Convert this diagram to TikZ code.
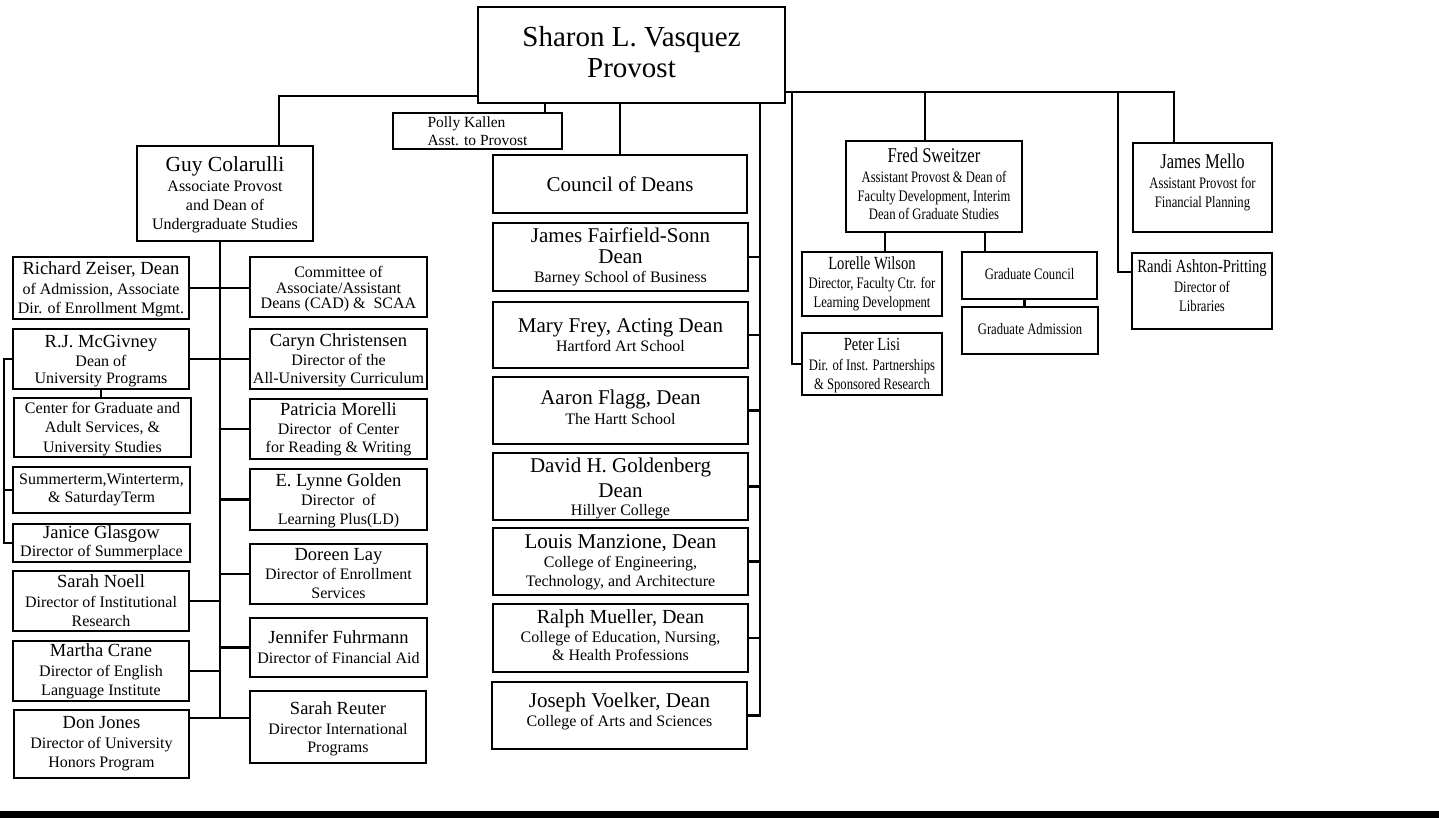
\documentclass[tikz,border=0pt]{standalone}
\usepackage{fontspec}
\setmainfont{Liberation Serif}
\newfontfamily\nar[FakeStretch=0.79]{Liberation Serif}
\newcommand\fs[2]{\fontsize{#1}{#2}\selectfont}
\newcommand\fbg{\fs{21}{20}}
\newcommand\fmd{\fs{18.5}{19}}
\newcommand\fsm{\fs{16}{19}}
\tikzset{
  box/.style={draw=black, line width=2.4pt, rectangle, inner sep=0pt, align=center, font=\fs{16}{19}},
  rbox/.style={box, font=\nar\fs{16}{19}},
  wire/.style={line width=2.4pt, draw=black}
}
\begin{document}
\begin{tikzpicture}[x=1pt,y=-1pt]
\useasboundingbox (0,0) rectangle (1439,818);
\fill[white] (0,0) rectangle (1439,818);
% top
\node[box,minimum width=307pt,minimum height=96pt,font=\fs{29}{32},text depth=7pt] (Sharon) at (631.5,55) {Sharon L. Vasquez\\[-1pt]Provost};
\node[box,minimum width=169pt,minimum height=36pt,align=left,font=\fs{15.5}{18}] (Polly) at (477.5,131) {Polly Kallen\\Asst. to Provost};
% deans
\node[box,minimum width=254pt,minimum height=58pt,font=\fbg] (Council) at (620,184) {Council of Deans};
\node[box,minimum width=255pt,minimum height=68pt] (Fairfield) at (620.5,257) {\fbg James Fairfield-Sonn\\[2pt]\fbg Dean\\\fsm Barney School of Business};
\node[box,minimum width=255pt,minimum height=66pt] (Mary) at (620.5,335) {\fbg Mary Frey, Acting Dean\\\fsm Hartford Art School};
\node[box,minimum width=255pt,minimum height=67pt,text depth=7.5pt] (Aaron) at (620.5,410.5) {\fbg Aaron Flagg, Dean\\[1pt]\fsm The Hartt School};
\node[box,minimum width=255pt,minimum height=67pt,text depth=0.3pt] (David) at (620.5,486.5) {\fbg David H. Goldenberg\\[6pt]\fbg Dean\\[-1pt]\fsm Hillyer College};
\node[box,minimum width=255pt,minimum height=67pt,text depth=1.5pt] (Louis) at (620.5,561.5) {\fbg Louis Manzione, Dean\\\fsm College of Engineering,\\\fsm Technology, and Architecture};
\node[box,minimum width=255pt,minimum height=68pt,text depth=6pt] (Ralph) at (620.5,638) {\fs{20}{20}Ralph Mueller, Dean\\\fsm College of Education, Nursing,\\[-1pt]\fsm \& Health Professions};
\node[box,minimum width=255pt,minimum height=67pt,text depth=12.5pt] (Joseph) at (619.5,715.5) {\fbg Joseph Voelker, Dean\\\fsm College of Arts and Sciences};
% left group
\node[box,minimum width=176pt,minimum height=95pt,text depth=-0.5pt] (Guy) at (225,193.5) {\fs{21.5}{20}Guy Colarulli\\[1pt]\fsm Associate Provost\\\fsm and Dean of\\\fsm Undergraduate Studies};
\node[box,minimum width=176pt,minimum height=62pt,text depth=-0.5pt] (Richard) at (101,288) {\fmd Richard Zeiser, Dean\\[0.5pt]\fsm of Admission, Associate\\[0.5pt]\fsm Dir. of Enrollment Mgmt.};
\node[box,minimum width=176pt,minimum height=60pt,text depth=-1.5pt] (McGivney) at (101,359) {\fmd R.J. McGivney\\\fsm Dean of\\[-2pt]\fsm University Programs};
\node[box,minimum width=177pt,minimum height=59pt,text depth=0.9pt] (Center) at (102.5,427.5) {\fsm Center for Graduate and\\[0.5pt]\fsm Adult Services, \&\\[0.5pt]\fsm University Studies};
\node[box,minimum width=177pt,minimum height=46pt] (Summer) at (101.5,490) {\fsm Summerterm,Winterterm,\\[-1pt]\fsm \& SaturdayTerm};
\node[box,minimum width=177pt,minimum height=38pt] (Janice) at (101.5,543) {\fmd Janice Glasgow\\[-1pt]\fsm Director of Summerplace};
\node[box,minimum width=176pt,minimum height=60pt] (Noell) at (101,601) {\fmd Sarah Noell\\[1pt]\fsm Director of Institutional\\\fsm Research};
\node[box,minimum width=176pt,minimum height=60pt] (Martha) at (101,671) {\fmd Martha Crane\\[1pt]\fsm Director of English\\\fsm Language Institute};
\node[box,minimum width=175pt,minimum height=68pt] (DonJones) at (101.5,744) {\fmd Don Jones\\[1pt]\fsm Director of University\\\fsm Honors Program};
\node[box,minimum width=177pt,minimum height=60pt,text depth=0pt] (Committee) at (338.5,287) {\fsm Committee of\\[-3pt]\fsm Associate/Assistant\\[-4pt]\fsm Deans (CAD) \&\ \ SCAA};
\node[box,minimum width=177pt,minimum height=60pt,text depth=-0.5pt] (Caryn) at (338.5,359) {\fmd Caryn Christensen\\\fsm Director of the\\[-1pt]\fsm All-University Curriculum};
\node[box,minimum width=177pt,minimum height=60pt] (Patricia) at (338.5,429) {\fmd Patricia Morelli\\\fsm Director\ \ of Center\\[-1pt]\fsm for Reading \& Writing};
\node[box,minimum width=177pt,minimum height=61pt,text depth=-0.5pt] (Golden) at (338.5,499.5) {\fmd E. Lynne Golden\\\fsm Director\ \ of\\\fsm Learning Plus(LD)};
\node[box,minimum width=177pt,minimum height=60pt] (Doreen) at (338.5,574) {\fmd Doreen Lay\\\fsm Director of Enrollment\\\fsm Services};
\node[box,minimum width=177pt,minimum height=59pt] (Jennifer) at (338.5,647.5) {\fmd Jennifer Fuhrmann\\[1pt]\fsm Director of Financial Aid};
\node[box,minimum width=176pt,minimum height=72pt,text depth=-1.5pt] (Reuter) at (338,727) {\fmd Sarah Reuter\\[1pt]\fsm Director International\\[-1pt]\fsm Programs};
% right group
\node[rbox,minimum width=176pt,minimum height=91pt,text depth=6pt] (Fred) at (934,186.5) {\fbg Fred Sweitzer\\[1pt]\fsm Assistant Provost \& Dean of\\\fsm Faculty Development, Interim\\[-1pt]\fsm Dean of Graduate Studies};
\node[rbox,minimum width=139pt,minimum height=89pt,text depth=14.5pt] (Mello) at (1202.5,187.5) {\fbg James Mello\\[1pt]\fsm Assistant Provost for\\\fsm Financial Planning};
\node[rbox,minimum width=140pt,minimum height=64pt] (Lorelle) at (872,284) {\fmd Lorelle Wilson\\\fsm Director, Faculty Ctr. for\\\fsm Learning Development};
\node[rbox,minimum width=135pt,minimum height=47pt,text depth=4pt] (GradCouncil) at (1029.5,275.5) {Graduate Council};
\node[rbox,minimum width=136pt,minimum height=47pt,text depth=4pt] (GradAdm) at (1030,330.5) {Graduate Admission};
\node[rbox,minimum width=140pt,minimum height=62pt,text depth=-0.5pt] (Peter) at (872,364) {\fmd Peter Lisi\\[1pt]\fsm Dir. of Inst. Partnerships\\\fsm \& Sponsored Research};
\node[rbox,minimum width=140pt,minimum height=76pt,text depth=10pt] (Randi) at (1202,291) {\fmd Randi Ashton-Pritting\\[1pt]\fsm Director of\\\fsm Libraries};
% connectors: top
\coordinate (guyTap) at (279,96);
\draw[wire] (Sharon.west |- guyTap) -- (guyTap) -- (guyTap |- Guy.north);
\draw[wire] ([xshift=-18pt]Polly.north east) -- ([xshift=-18pt]Polly.north east |- Sharon.south);
\draw[wire] (Council.north |- Sharon.south) -- (Council.north);
\coordinate (deanBus) at (760,103);
\draw[wire] (deanBus) -- (deanBus |- Joseph.east) -- (Joseph.east);
\foreach \n in {Fairfield,Mary,Aaron,David,Louis,Ralph} \draw[wire] (\n.east) -- (\n.east -| deanBus);
% right
\coordinate (topR) at (1174,92);
\coordinate (lisiTap) at (792,92);
\coordinate (fredTap) at (925,92);
\coordinate (randiTap) at (1118,92);
\draw[wire] (Sharon.east |- topR) -- (topR) -- (topR |- Mello.north);
\draw[wire] (fredTap) -- (fredTap |- Fred.north);
\draw[wire] (lisiTap) |- (Peter.west);
\draw[wire] (randiTap) |- ([yshift=19pt]Randi.west);
\draw[wire] ([xshift=-49pt]Fred.south) -- ([xshift=-49pt]Fred.south |- Lorelle.north);
\draw[wire] ([xshift=51pt]Fred.south) -- ([xshift=51pt]Fred.south |- GradCouncil.north);
\draw[wire] ([xshift=-5pt]GradCouncil.south) -- ([xshift=-5pt]GradCouncil.south |- GradAdm.north);
% left
\coordinate (busTop) at (220,241);
\coordinate (busEnd) at (220,718);
\draw[wire] (busTop) -- (busEnd);
\draw[wire] (Richard.east) -- (Richard.east -| Committee.west);
\draw[wire] (McGivney.east) -- (McGivney.east -| Caryn.west);
\foreach \n in {Patricia,Golden,Doreen,Jennifer} \draw[wire] (\n.west) -- (\n.west -| busTop);
\foreach \n in {Noell,Martha} \draw[wire] (\n.east) -- (\n.east -| busTop);
\draw[wire] (DonJones.east |- busEnd) -- (Reuter.west |- busEnd);
\coordinate (brk) at (4,358);
\draw[wire] (McGivney.west) -- (McGivney.west -| brk) |- (Janice.west);
\draw[wire] (Summer.west) -- (Summer.west -| brk);
\draw[wire] (McGivney.south) -- (McGivney.south |- Center.north);
% bottom bar
\fill[black] (0,811) rectangle (1439,818);
\end{tikzpicture}
\end{document}
